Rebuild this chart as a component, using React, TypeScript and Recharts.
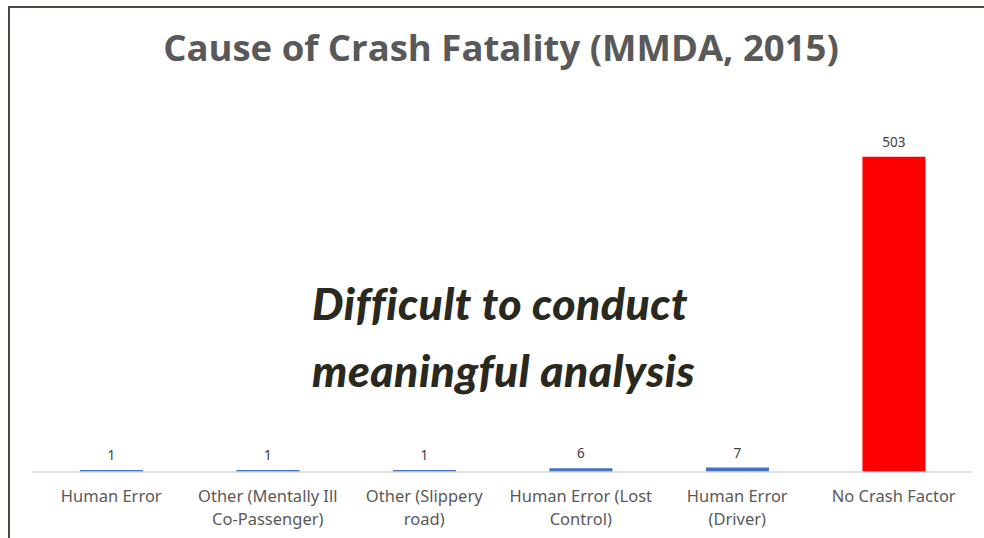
import React from "react";
import { BarChart, Bar, XAxis, YAxis, Cell, LabelList } from "recharts";

const categories = [
  "Human Error",
  "Other (Mentally Ill Co-Passenger)",
  "Other (Slippery road)",
  "Human Error (Lost Control)",
  "Human Error (Driver)",
  "No Crash Factor",
];
const tickLines = [
  ["Human Error"],
  ["Other (Mentally Ill", "Co-Passenger)"],
  ["Other (Slippery", "road)"],
  ["Human Error (Lost", "Control)"],
  ["Human Error", "(Driver)"],
  ["No Crash Factor"],
];
const fatalities = [1, 1, 1, 6, 7, 503];
const barColors = ["#4472c4", "#4472c4", "#4472c4", "#4472c4", "#4472c4", "#ff0000"];

const data = categories.map((name, i) => ({ name, value: fatalities[i] }));

const FONT = "'Noto Sans', sans-serif";

const WrappedTick = (props: any) => {
  const { x, y, index } = props;
  const lines = tickLines[index] || [];
  return (
    <g transform={`translate(${x},${y})`}>
      {lines.map((line, i) => (
        <text
          key={i}
          x={0}
          y={22 + i * 23}
          textAnchor="middle"
          fill="#595959"
          fontSize={16.5}
          fontFamily={FONT}
        >
          {line}
        </text>
      ))}
    </g>
  );
};

export default function App() {
  return (
    <div style={{ position: "relative", width: 984, height: 538, background: "#fff", overflow: "hidden" }}>
      <style>{`body{margin:0}`}</style>
      {/* slide frame */}
      <div
        style={{
          position: "absolute",
          left: 8,
          top: 6,
          width: 990,
          height: 550,
          borderTop: "2px solid #4a4a3c",
          borderLeft: "2px solid #4a4a3c",
        }}
      />
      <div
        style={{
          position: "absolute",
          top: 22,
          left: 0,
          width: 1002,
          textAlign: "center",
          fontFamily: "'Open Sans', sans-serif",
          fontWeight: 700,
          fontSize: 36.5,
          color: "#595959",
        }}
      >
        Cause of Crash Fatality (MMDA, 2015)
      </div>
      <div style={{ position: "absolute", left: 0, top: 0 }}>
        <BarChart
          width={984}
          height={538}
          data={data}
          margin={{ top: 96, right: 12, left: 33, bottom: 0 }}
          barCategoryGap="30%"
        >
          <YAxis hide domain={[0, 600]} />
          <XAxis
            dataKey="name"
            height={66}
            tickLine={false}
            axisLine={{ stroke: "#d9d9d9", strokeWidth: 1.5 }}
            tick={<WrappedTick />}
            interval={0}
          />
          <Bar dataKey="value" isAnimationActive={false} minPointSize={2}>
            {data.map((d, i) => (
              <Cell key={d.name} fill={barColors[i]} />
            ))}
            <LabelList
              dataKey="value"
              position="top"
              offset={10}
              fill="#404040"
              fontSize={13.5}
              fontFamily={FONT}
            />
          </Bar>
        </BarChart>
      </div>
      <div
        style={{
          position: "absolute",
          left: 312,
          top: 269,
          fontFamily: "Lato, sans-serif",
          fontStyle: "italic",
          fontWeight: 900,
          fontSize: 44.5,
          letterSpacing: 0.5,
          lineHeight: "67px",
          color: "#2a2920",
        }}
      >
        Difficult to conduct
        <br />
        meaningful analysis
      </div>
    </div>
  );
}
